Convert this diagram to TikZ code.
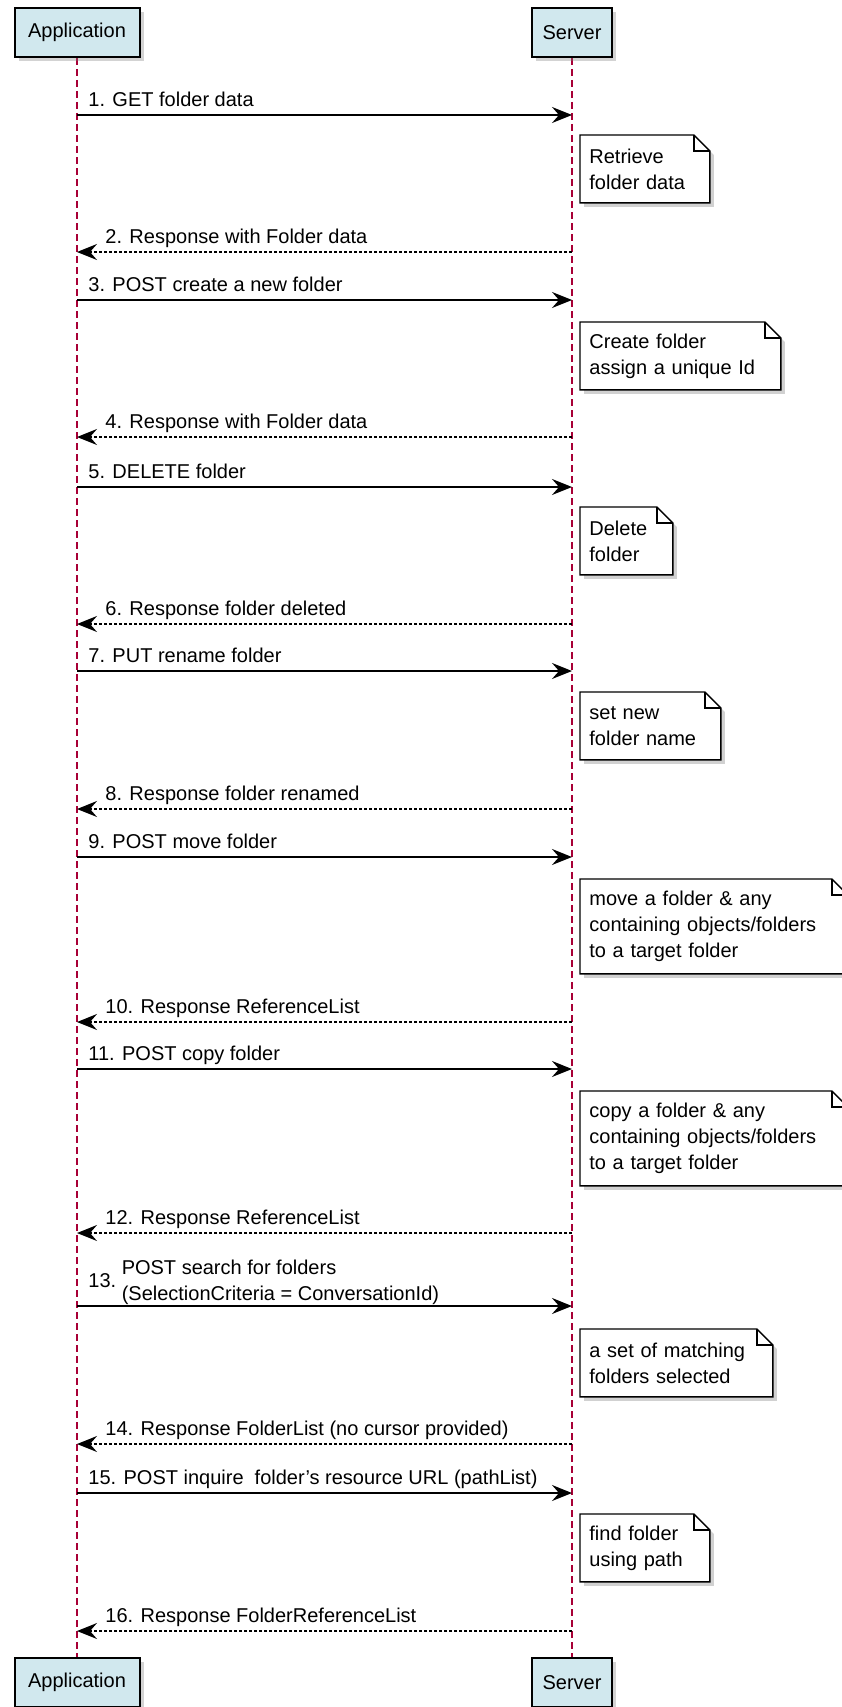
\documentclass[tikz,border=0pt]{standalone}
\usepackage{fontspec}
\setmainfont{Liberation Sans}
\usetikzlibrary{arrows.meta,shadows,backgrounds}

\definecolor{partblue}{RGB}{209,232,238}
\definecolor{lifered}{RGB}{168,0,54}

\tikzset{
  party/.style={draw=black, line width=1pt, fill=partblue, minimum height=24.5pt, inner sep=0pt,
    drop shadow={shadow xshift=2pt, shadow yshift=-2pt, opacity=0.35}},
  lifeline/.style={draw=lifered, line width=0.75pt, dash pattern=on 3.5pt off 2pt},
  call/.style={draw=black, line width=0.75pt, -{Stealth[length=10pt, width=8pt, inset=3.5pt]}},
  reply/.style={call, dash pattern=on 1.5pt off 1pt},
  msglabel/.style={anchor=base west, inner sep=0pt},
  notetext/.style={anchor=north west, align=left, inner xsep=4.5pt, inner ysep=0pt},
  noteline/.style={draw=black, line width=0.7pt, line join=miter},
  noteshadow/.style={fill=black!40, opacity=0.45}
}

\begin{document}
\begin{tikzpicture}[x=0.5pt, y=-0.5pt, font=\fontsize{10}{13}\selectfont]
\useasboundingbox (0,0) rectangle (841,1707);

% participants, top and bottom
\node[party, minimum width=62.5pt] (appTop) at (77,32.5) {Application};
\node[party, minimum width=40pt] (srvTop) at (572,32.5) {Server};
\node[party, minimum width=62.5pt] (appBot) at (77,1682.5) {Application};
\node[party, minimum width=40pt] (srvBot) at (572,1682.5) {Server};
\begin{pgfonlayer}{background}
\draw[lifeline] (appTop) -- (appBot);
\draw[lifeline] (srvTop) -- (srvBot);
\end{pgfonlayer}

% requests
\foreach \n/\y/\txt in {1/115/{1. GET folder data}, 3/300/{3. POST create a new folder},
    5/487/{5. DELETE folder}, 7/671/{7. PUT rename folder}, 9/857/{9. POST move folder},
    11/1069/{11. POST copy folder}, 15/1493/{15. POST inquire\ \ folder's resource URL (pathList)}}{
  \coordinate (a\n) at (appTop |- 0,\y);
  \coordinate (s\n) at (srvTop |- 0,\y);
  \draw[call] (a\n) -- (s\n);
  \node[msglabel] (l\n) at ([xshift=5.5pt,yshift=4.5pt]a\n) {\txt};
}
\coordinate (a13) at (appTop |- 0,1306);
\coordinate (s13) at (srvTop |- 0,1306);
\draw[call] (a13) -- (s13);
\node[msglabel] (l13) at ([xshift=5.5pt,yshift=9.5pt]a13) {13.\ \begin{tabular}{@{}l@{}}POST search for folders\\(SelectionCriteria = ConversationId)\end{tabular}};

% responses
\foreach \n/\y/\txt in {2/252/{2. Response with Folder data}, 4/437/{4. Response with Folder data},
    6/624/{6. Response folder deleted}, 8/809/{8. Response folder renamed},
    10/1022/{10. Response ReferenceList}, 12/1233/{12. Response ReferenceList},
    14/1444/{14. Response FolderList (no cursor provided)}, 16/1631/{16. Response FolderReferenceList}}{
  \coordinate (a\n) at (appTop |- 0,\y);
  \coordinate (s\n) at (srvTop |- 0,\y);
  \draw[reply] (s\n) -- (a\n);
  \node[msglabel] (l\n) at ([xshift=14pt,yshift=4.5pt]a\n) {\txt};
}

% notes on the server
\foreach \n/\ny/\nw/\nh/\txt in {1/135/55.5/33.5/{Retrieve\\folder data},
    2/322/91/33.5/{Create folder\\assign a unique Id},
    3/507/37/33.5/{Delete\\folder},
    4/692/61/33.5/{set new\\folder name},
    5/879/124.5/47/{move a folder \& any\\containing objects/folders\\to a target folder},
    6/1091/124.5/47/{copy a folder \& any\\containing objects/folders\\to a target folder},
    7/1329/87/33.5/{a set of matching\\folders selected},
    8/1514/55.5/33.5/{find folder\\using path}}{
  \node[notetext, text width=\nw pt, minimum height=\nh pt] (n\n) at (580,\ny) {\txt};
  \begin{pgfonlayer}{background}
  \fill[noteshadow] ([shift={(2pt,-2pt)}]n\n.north west) -- ([shift={(-6pt,-2pt)}]n\n.north east)
    -- ([shift={(2pt,-10pt)}]n\n.north east) -- ([shift={(2pt,-2pt)}]n\n.south east)
    -- ([shift={(2pt,-2pt)}]n\n.south west) -- cycle;
  \fill[white] (n\n.north west) -- ([xshift=-8pt]n\n.north east) -- ([yshift=-8pt]n\n.north east)
    -- (n\n.south east) -- (n\n.south west) -- cycle;
  \end{pgfonlayer}
  \draw[noteline] (n\n.north west) -- ([xshift=-8pt]n\n.north east) -- ([yshift=-8pt]n\n.north east)
    -- (n\n.south east) -- (n\n.south west) -- cycle;
  \draw[noteline] ([xshift=-8pt]n\n.north east) |- ([yshift=-8pt]n\n.north east);
}
\end{tikzpicture}
\end{document}
